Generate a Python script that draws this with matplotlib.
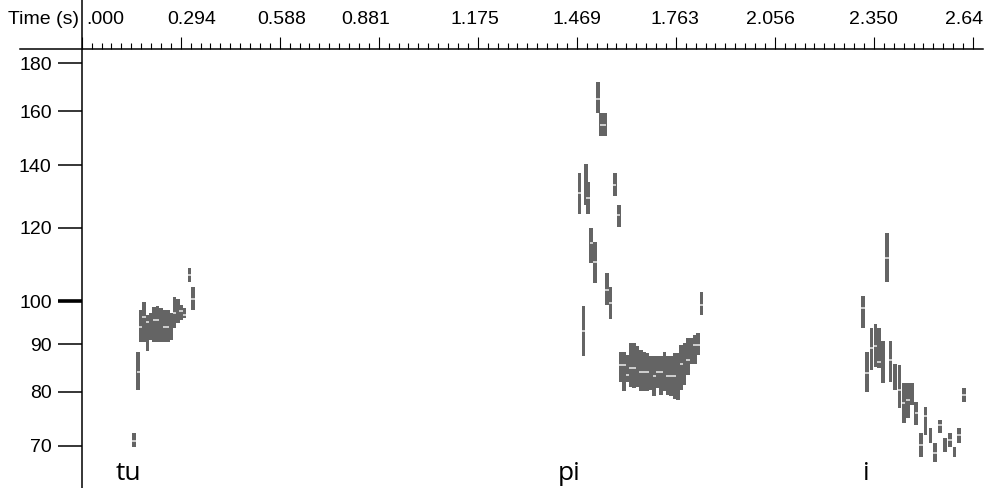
import matplotlib
matplotlib.use('Agg')
import matplotlib.pyplot as plt
import matplotlib.transforms as mtransforms
from matplotlib.lines import Line2D
from matplotlib.ticker import FixedLocator, NullLocator

plt.rcParams['font.family'] = ['Liberation Sans', 'DejaVu Sans']

# ----------------------
# pitch frames: time (s), lowest / highest candidate (Hz)
# ----------------------
tu_t  = [0.155, 0.168, 0.175, 0.185, 0.195, 0.205, 0.215, 0.225, 0.235,
         0.245, 0.255, 0.265, 0.275, 0.285, 0.295, 0.305, 0.320, 0.330]
tu_lo = [69.8, 80.4, 90.5, 90.5, 88.5, 91.0, 90.5, 90.5, 90.5,
         90.5, 90.5, 91.0, 93.6, 94.8, 95.5, 96.0, 104.9, 97.8]
tu_hi = [72.3, 88.3, 97.8, 99.9, 96.7, 97.3, 98.6, 98.9, 98.3,
         97.8, 97.8, 97.3, 101.1, 100.5, 99.1, 98.3, 108.6, 103.7]

pi_t  = [1.476, 1.488, 1.495, 1.502, 1.511, 1.522, 1.531, 1.541, 1.551,
         1.558, 1.568, 1.581, 1.5925,
         1.598, 1.608, 1.618, 1.628, 1.638, 1.648, 1.658, 1.668, 1.678,
         1.688, 1.698, 1.708, 1.718, 1.728, 1.738, 1.748, 1.758, 1.768,
         1.778, 1.788, 1.798, 1.808, 1.818, 1.828, 1.838]
pi_lo = [124.1, 87.4, 126.9, 124.0, 110.0, 104.7, 159.2, 150.5, 150.5,
         99.2, 95.7, 129.8, 120.1,
         82.0, 80.1, 82.0, 81.0, 80.7, 81.0, 80.1, 80.1, 80.1,
         80.4, 79.1, 80.7, 79.4, 80.1, 79.4, 79.1, 78.7, 78.4,
         80.4, 81.4, 83.4, 85.8, 85.8, 87.6, 96.7]
pi_hi = [137.3, 98.9, 140.3, 134.2, 120.0, 115.9, 172.1, 159.2, 159.2,
         107.2, 103.7, 137.3, 126.9,
         88.3, 88.3, 87.6, 90.2, 90.2, 89.5, 88.7, 88.3, 88.0,
         87.3, 87.3, 87.3, 87.3, 88.3, 87.3, 87.3, 88.0, 88.0,
         89.8, 90.2, 91.3, 91.3, 92.1, 92.5, 102.3]

i_t  = [2.317, 2.329, 2.342, 2.354, 2.364, 2.377, 2.388, 2.399, 2.412,
        2.425, 2.438, 2.451, 2.462, 2.475, 2.489, 2.502, 2.517, 2.531,
        2.545, 2.560, 2.575, 2.588, 2.602, 2.617]
i_lo = [93.6, 80.0, 84.4, 85.1, 84.8, 81.7, 104.8, 82.0, 80.4,
        76.8, 74.0, 75.0, 77.5, 73.7, 68.1, 72.0, 70.5, 67.3,
        72.3, 69.0, 69.8, 68.1, 70.5, 78.0]
i_hi = [101.4, 88.3, 93.6, 94.6, 93.6, 90.6, 118.5, 90.6, 85.8,
        85.5, 81.7, 81.7, 81.7, 78.0, 72.3, 77.1, 73.2, 70.5,
        74.6, 71.4, 72.3, 69.8, 73.2, 80.8]

# light marks inside the bars
mark_t = [0.155, 0.168, 0.175, 0.185, 0.195, 0.215, 0.225, 0.245, 0.255,
          0.275, 0.295, 0.305, 0.320, 0.330,
          1.476, 1.488, 1.502, 1.511, 1.522, 1.531, 1.541, 1.551, 1.558,
          1.568, 1.581, 1.5925,
          1.598, 1.608, 1.618, 1.628, 1.638, 1.658, 1.668, 1.678, 1.698,
          1.708, 1.718, 1.738, 1.748, 1.758, 1.778, 1.798, 1.818, 1.828, 1.838,
          2.317, 2.329, 2.342, 2.354, 2.364, 2.388, 2.399, 2.425, 2.438,
          2.451, 2.475, 2.489, 2.502, 2.531, 2.545, 2.575, 2.602, 2.617]
mark_f = [70.9, 84.0, 94.0, 96.2, 95.0, 95.6, 95.6, 94.0, 94.0,
          97.2, 97.6, 96.7, 106.8, 100.6,
          130.6, 93.0, 129.1, 115.5, 110.1, 164.8, 154.6, 154.6, 103.0,
          99.6, 133.4, 123.9,
          85.5, 85.5, 83.4, 84.9, 84.9, 84.0, 84.0, 84.0, 83.2,
          84.0, 84.0, 83.2, 83.2, 83.2, 85.6, 86.5, 89.8, 89.8, 99.2,
          98.5, 83.8, 89.1, 89.5, 86.2, 111.3, 86.6, 80.4, 77.8,
          78.4, 76.0, 70.2, 75.3, 68.8, 73.7, 71.0, 71.9, 79.3]

syllables = ['tu', 'pi', 'i']
syllable_t = [0.102, 1.412, 2.318]

y_ticks = [70, 80, 90, 100, 120, 140, 160, 180]
total = 2.643
x_major = [total * k / 9 for k in range(10)]
x_minor = [total * k / 90 for k in range(91) if k % 10]
x_labels = ['.000', '0.294', '0.588', '0.881', '1.175', '1.469', '1.763',
            '2.056', '2.350', '2.64']
x_label_pos = [0.0128, 0.325, 0.594, 0.8425, 1.1664, 1.468, 1.7595,
               2.044, 2.3467, 2.6165]

# ----------------------
# figure
# ----------------------
W, H = 996, 488
left_px, right_px, top_px = 81.7, 983, 49
fig = plt.figure(figsize=(W / 100, H / 100), dpi=100)
ax = fig.add_axes([left_px / W, 0, (right_px - left_px) / W, 1 - top_px / H])
ax.set_yscale('log')
ax.set_xlim(0, (right_px - left_px) / 337.2)
ax.set_ylim(63.1, 186.5)

dark = '#646464'
light = '#d8d8d8'
for t, lo, hi in [(tu_t, tu_lo, tu_hi), (pi_t, pi_lo, pi_hi), (i_t, i_lo, i_hi)]:
    ax.bar(t, [h - l for h, l in zip(hi, lo)], bottom=lo, width=0.011,
           color=dark, linewidth=0, antialiased=False)
ax.hlines(mark_f, [t - 0.005 for t in mark_t], [t + 0.005 for t in mark_t],
          color=light, linewidth=1.3)

for s in ax.spines.values():
    s.set_visible(False)

# axes lines
fig.add_artist(Line2D([20 / W, right_px / W], [1 - top_px / H] * 2,
                      color='black', lw=1.1))
fig.add_artist(Line2D([left_px / W] * 2, [0, 1], color='black', lw=1.1))

# x ticks on top
ax.xaxis.set_ticks_position('top')
ax.set_xticks(x_major)
ax.xaxis.set_minor_locator(FixedLocator(x_minor))
ax.tick_params(axis='x', which='major', direction='out', length=8.6,
               width=0.8, labeltop=False, labelbottom=False)
ax.tick_params(axis='x', which='minor', direction='out', length=4.3,
               width=0.8, labeltop=False, labelbottom=False)

trans = mtransforms.blended_transform_factory(ax.transData, fig.transFigure)
for pos, lab in zip(x_label_pos, x_labels):
    ax.text(pos, 1 - 19.7 / H, lab, transform=trans, fontsize=14,
            ha='left' if lab == '.000' else 'center', va='center')
fig.text(8 / W, 1 - 19.7 / H, 'Time (s)', fontsize=14, ha='left', va='center')

# y ticks
ax.set_yticks(y_ticks)
ax.set_yticklabels([str(v) for v in y_ticks])
ax.yaxis.set_minor_locator(NullLocator())
ax.tick_params(axis='y', which='major', direction='out', length=17.3,
               width=1.1, pad=4.3, labelsize=14)
for tk, v in zip(ax.yaxis.get_major_ticks(), y_ticks):
    if v == 100:
        tk.tick1line.set_markeredgewidth(2.6)

for s, t in zip(syllables, syllable_t):
    ax.text(t, 1 - 480 / H, s, transform=trans, fontsize=19,
            family=['Open Sans', 'DejaVu Sans'], va='baseline', ha='left')

fig.savefig('out.png', dpi=100)
